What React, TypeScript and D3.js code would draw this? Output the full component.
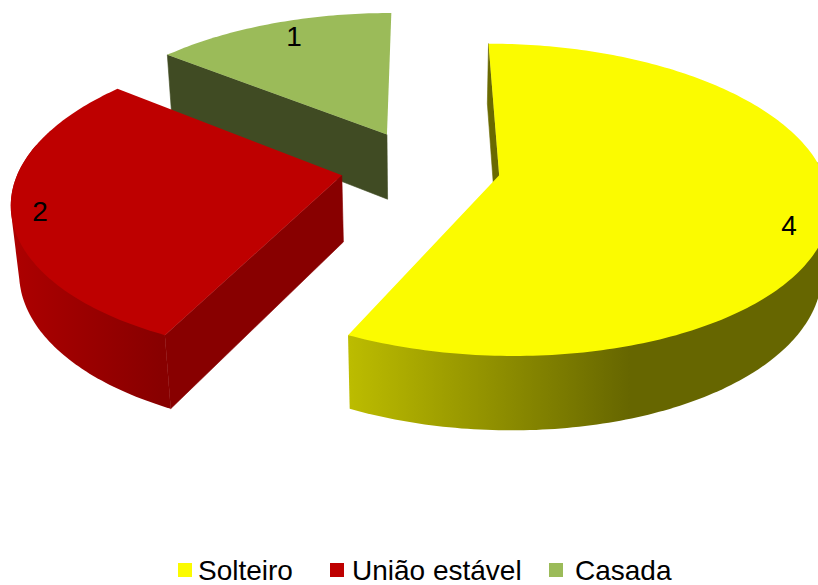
import React from "react";
import * as d3 from "d3";

const categories = ["Solteiro", "União estável", "Casada"];
const counts = [4, 2, 1];
const topColors = ["#fbfb00", "#be0000", "#9bbb59"];
const radialWallColors = ["#6a6a00", "#880000", "#404b23"];
const labelAnchors = [
  { x: 789, y: 235 },
  { x: 40, y: 221 },
  { x: 294, y: 46 },
];
const legendSwatchX = [178, 330, 549];
const legendTextX = [198, 352, 575];

const WIDTH = 818;
const HEIGHT = 585;

// Camera model for the tilted disc
const originX = 420.5;
const originY = 167;
const radius = 322;
const explode = 80;
const tilt = 0.465;
const perspective = 2075;
const thickness = 67.5;
const bottomW = 0.02;

// Only this stretch of the rim faces the viewer
const frontArcStart = (85 * Math.PI) / 180;
const frontArcEnd = (282 * Math.PI) / 180;

type Pt = [number, number];

// Projects a disc point (u across, v into the page) on the top or bottom face
function project(u: number, v: number, bottom: boolean): Pt {
  const w = 1 + v / perspective + (bottom ? bottomW : 0);
  return [originX + u / w, originY + (-tilt * v + (bottom ? thickness : 0)) / w];
}

const pieAngles = d3.pie<number>().sort(null).value((d) => d)(counts);

const line = d3.line();

function rimPoints(a0: number, a1: number, ax: number, ay: number, bottom: boolean): Pt[] {
  const steps = Math.max(8, Math.ceil((a1 - a0) * 60));
  return d3.range(steps + 1).map((i) => {
    const t = a0 + ((a1 - a0) * i) / steps;
    return project(ax + radius * Math.sin(t), ay + radius * Math.cos(t), bottom);
  });
}

const slices = pieAngles.map((p, i) => {
  const mid = (p.startAngle + p.endAngle) / 2;
  const ax = explode * Math.sin(mid);
  const ay = explode * Math.cos(mid);
  const topRim = rimPoints(p.startAngle, p.endAngle, ax, ay, false);
  const bottomRim = rimPoints(p.startAngle, p.endAngle, ax, ay, true);
  const apexTop = project(ax, ay, false);
  const apexBottom = project(ax, ay, true);

  // The rim's silhouette is the hull of its front-facing part on both faces
  const from = Math.max(p.startAngle, frontArcStart);
  const to = Math.min(p.endAngle, frontArcEnd);
  const hull =
    to > from
      ? d3.polygonHull([
          ...rimPoints(from, to, ax, ay, false),
          ...rimPoints(from, to, ax, ay, true),
        ])
      : null;

  return {
    i,
    top: line([apexTop, ...topRim])! + "Z",
    outer: hull ? line(hull)! + "Z" : null,
    radial: line([apexTop, topRim[0], bottomRim[0], apexBottom])! + "Z",
  };
});

// Painted back to front: Casada, União estável, Solteiro
const paintOrder = [2, 1, 0];

export default function App() {
  return (
    <svg
      width={WIDTH}
      height={HEIGHT}
      viewBox={`0 0 ${WIDTH} ${HEIGHT}`}
      style={{ position: "absolute", left: 0, top: 0, display: "block", background: "#fff" }}
    >
      <defs>
        <linearGradient id="rim-0" gradientUnits="userSpaceOnUse" x1={349} x2={630} y1={0} y2={0}>
          <stop offset="0" stopColor="#bcbc00" />
          <stop offset="1" stopColor="#666600" />
        </linearGradient>
        <linearGradient id="rim-1" gradientUnits="userSpaceOnUse" x1={15} x2={160} y1={0} y2={0}>
          <stop offset="0" stopColor="#ac0000" />
          <stop offset="1" stopColor="#880000" />
        </linearGradient>
      </defs>

      {paintOrder.map((k) => {
        const s = slices[k];
        return (
          <g key={categories[k]}>
            {s.outer && <path d={s.outer} fill={`url(#rim-${k})`} />}
            <path d={s.radial} fill={radialWallColors[k]} stroke={radialWallColors[k]} strokeWidth={0.6} />
            <path d={s.top} fill={topColors[k]} />
          </g>
        );
      })}

      <g fontFamily="'Liberation Sans', Arial, sans-serif" fill="#000">
        {counts.map((c, i) => (
          <text key={i} x={labelAnchors[i].x} y={labelAnchors[i].y} fontSize={28} textAnchor="middle">
            {c}
          </text>
        ))}
        {categories.map((name, i) => (
          <g key={name}>
            <rect x={legendSwatchX[i]} y={563} width={14} height={14} fill={topColors[i]} />
            <text x={legendTextX[i]} y={580} fontSize={28}>
              {name}
            </text>
          </g>
        ))}
      </g>
    </svg>
  );
}
